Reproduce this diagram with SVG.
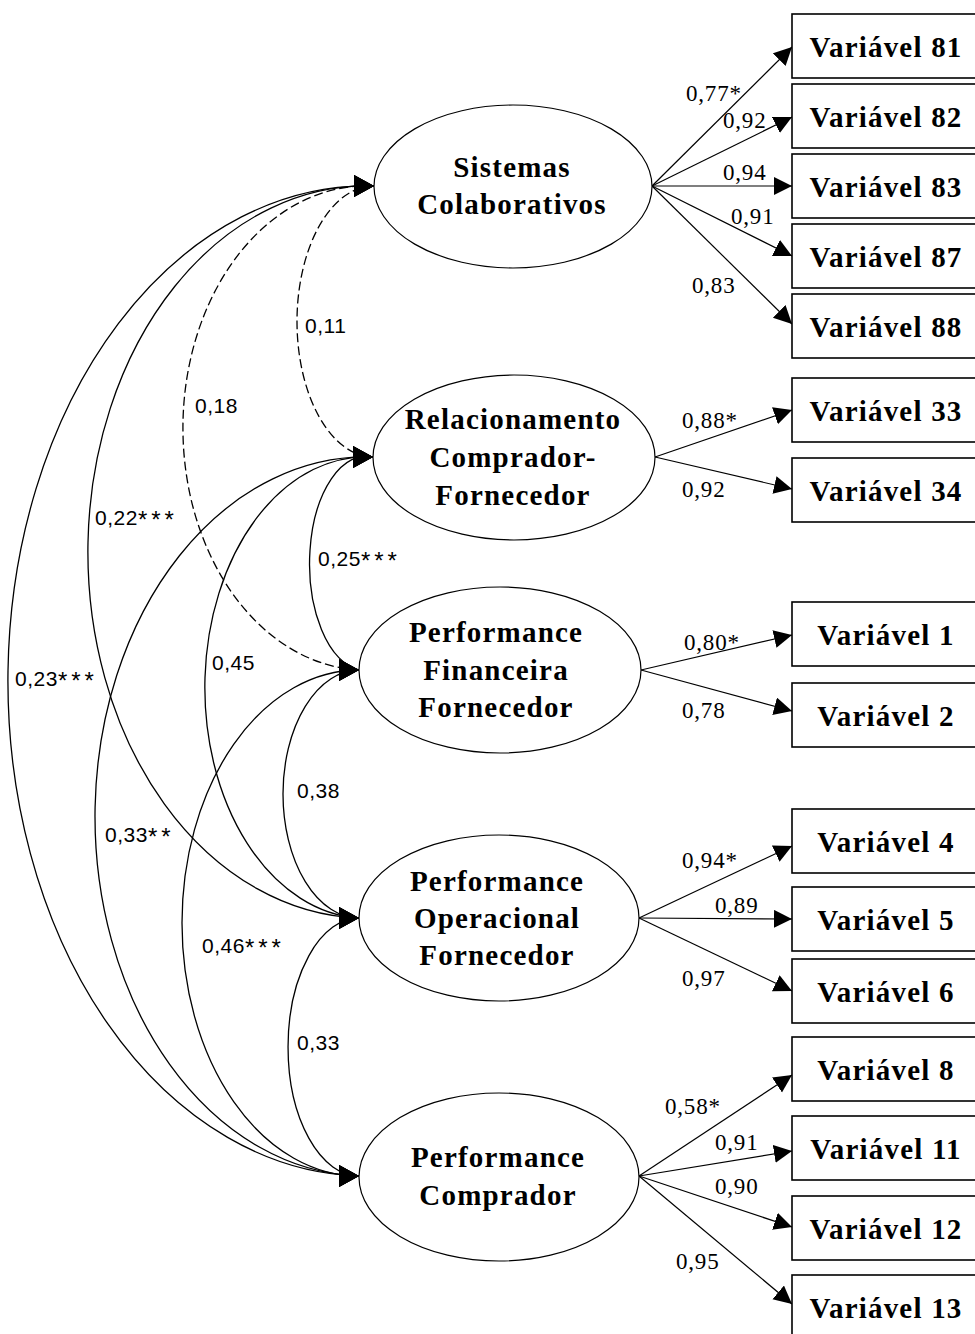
<svg xmlns="http://www.w3.org/2000/svg" width="975" height="1334" viewBox="0 0 975 1334">
<style>
.bg{fill:#fff}
.lat{fill:#fff;stroke:#000;stroke-width:1.2}
.box{fill:#fff;stroke:#000;stroke-width:1.6}
.nt{font-family:"Liberation Serif",serif;font-weight:bold;font-size:29px;letter-spacing:1.2px;text-anchor:middle;fill:#000}
.ld{stroke:#000;stroke-width:1.2;fill:none;marker-end:url(#la)}
.cv{stroke:#000;stroke-width:1.3;fill:none;marker-start:url(#ch);marker-end:url(#ch)}
.ds{stroke-dasharray:9,4}
.rl{font-family:"Liberation Serif",serif;font-size:23px;letter-spacing:0.8px;fill:#000}
.ll{font-family:"Liberation Sans",sans-serif;font-size:21px;letter-spacing:0.5px;fill:#000}
.st{font-size:24px;letter-spacing:4px}
</style>
<defs>
<marker id="la" markerUnits="userSpaceOnUse" markerWidth="20" markerHeight="20" refX="18" refY="9" orient="auto"><path d="M0,0 L18,9 L0,18 Z" fill="#000"/></marker>
<marker id="ch" markerUnits="userSpaceOnUse" markerWidth="22" markerHeight="24" refX="20" refY="11" orient="0"><path d="M0,0 L20,11 L0,22 Z" fill="#000"/></marker>
</defs>
<rect class="bg" x="0" y="0" width="975" height="1334"/>

<g id="connectors">
<!-- covariances -->
<path class="cv ds" d="M374,186 A76.5,135.5 0 0 0 373,457"/>
<path class="cv ds" d="M374,186 A183.5,242 0 0 0 359,670"/>
<path class="cv" d="M374,186 A278.5,366 0 0 0 359,918"/>
<path class="cv" d="M374,186 A358.5,495 0 0 0 359,1176"/>
<path class="cv" d="M373,457 A56,106.5 0 0 0 359,670"/>
<path class="cv" d="M373,457 A161,230.5 0 0 0 359,918"/>
<path class="cv" d="M373,457 A271,359.5 0 0 0 359,1176"/>
<path class="cv" d="M359,670 A76,124 0 0 0 359,918"/>
<path class="cv" d="M359,670 A177,253 0 0 0 359,1176"/>
<path class="cv" d="M359,918 A71,129 0 0 0 359,1176"/>
<!-- loadings -->
<line class="ld" x1="652" y1="186" x2="792" y2="47"/>
<line class="ld" x1="652" y1="186" x2="792" y2="117"/>
<line class="ld" x1="652" y1="186" x2="792" y2="186"/>
<line class="ld" x1="652" y1="186" x2="792" y2="256"/>
<line class="ld" x1="652" y1="186" x2="792" y2="324"/>
<line class="ld" x1="655" y1="457" x2="792" y2="410"/>
<line class="ld" x1="655" y1="457" x2="792" y2="489"/>
<line class="ld" x1="641" y1="670" x2="792" y2="635"/>
<line class="ld" x1="641" y1="670" x2="792" y2="711"/>
<line class="ld" x1="639" y1="918" x2="792" y2="846"/>
<line class="ld" x1="639" y1="918" x2="792" y2="919"/>
<line class="ld" x1="639" y1="918" x2="792" y2="991"/>
<line class="ld" x1="639" y1="1176" x2="792" y2="1075"/>
<line class="ld" x1="639" y1="1176" x2="792" y2="1151"/>
<line class="ld" x1="639" y1="1176" x2="792" y2="1227"/>
<line class="ld" x1="639" y1="1176" x2="792" y2="1304"/>
<!-- covariance labels -->
<text class="ll" x="305" y="333">0,11</text>
<text class="ll" x="195" y="413">0,18</text>
<text class="ll" x="95" y="525">0,22<tspan class="st" dy="3">***</tspan></text>
<text class="ll" x="318" y="566">0,25<tspan class="st" dy="3">***</tspan></text>
<text class="ll" x="15" y="686">0,23<tspan class="st" dy="3">***</tspan></text>
<text class="ll" x="212" y="670">0,45</text>
<text class="ll" x="297" y="798">0,38</text>
<text class="ll" x="105" y="842">0,33<tspan class="st" dy="3">**</tspan></text>
<text class="ll" x="202" y="953">0,46<tspan class="st" dy="3">***</tspan></text>
<text class="ll" x="297" y="1050">0,33</text>
<!-- loading labels -->
<text class="rl" x="686" y="101">0,77*</text>
<text class="rl" x="723" y="128">0,92</text>
<text class="rl" x="723" y="180">0,94</text>
<text class="rl" x="731" y="224">0,91</text>
<text class="rl" x="692" y="293">0,83</text>
<text class="rl" x="682" y="428">0,88*</text>
<text class="rl" x="682" y="497">0,92</text>
<text class="rl" x="684" y="650">0,80*</text>
<text class="rl" x="682" y="718">0,78</text>
<text class="rl" x="682" y="868">0,94*</text>
<text class="rl" x="715" y="913">0,89</text>
<text class="rl" x="682" y="986">0,97</text>
<text class="rl" x="665" y="1114">0,58*</text>
<text class="rl" x="715" y="1150">0,91</text>
<text class="rl" x="715" y="1194">0,90</text>
<text class="rl" x="676" y="1269">0,95</text>
</g>

<g id="f-sistemas">
<ellipse class="lat" cx="513" cy="186.5" rx="139" ry="81.5"/>
<text class="nt" x="512" y="177">Sistemas</text>
<text class="nt" x="512" y="214">Colaborativos</text>
</g>
<g id="f-relacionamento">
<ellipse class="lat" cx="514" cy="457.5" rx="141" ry="82.5"/>
<text class="nt" x="513" y="429">Relacionamento</text>
<text class="nt" x="513" y="467">Comprador-</text>
<text class="nt" x="513" y="505">Fornecedor</text>
</g>
<g id="f-financeira">
<ellipse class="lat" cx="500" cy="670" rx="141" ry="83"/>
<text class="nt" x="496" y="642">Performance</text>
<text class="nt" x="496" y="680">Financeira</text>
<text class="nt" x="496" y="717">Fornecedor</text>
</g>
<g id="f-operacional">
<ellipse class="lat" cx="499" cy="918" rx="140" ry="83"/>
<text class="nt" x="497" y="891">Performance</text>
<text class="nt" x="497" y="928">Operacional</text>
<text class="nt" x="497" y="965">Fornecedor</text>
</g>
<g id="f-comprador">
<ellipse class="lat" cx="499" cy="1177" rx="140" ry="84"/>
<text class="nt" x="498" y="1167">Performance</text>
<text class="nt" x="498" y="1205">Comprador</text>
</g>

<g id="v81"><rect class="box" x="792" y="14" width="200" height="64"/><text class="nt" x="886" y="57">Variável 81</text></g>
<g id="v82"><rect class="box" x="792" y="84" width="200" height="64"/><text class="nt" x="886" y="127">Variável 82</text></g>
<g id="v83"><rect class="box" x="792" y="154" width="200" height="64"/><text class="nt" x="886" y="197">Variável 83</text></g>
<g id="v87"><rect class="box" x="792" y="224" width="200" height="64"/><text class="nt" x="886" y="267">Variável 87</text></g>
<g id="v88"><rect class="box" x="792" y="294" width="200" height="64"/><text class="nt" x="886" y="337">Variável 88</text></g>
<g id="v33"><rect class="box" x="792" y="378" width="200" height="64"/><text class="nt" x="886" y="421">Variável 33</text></g>
<g id="v34"><rect class="box" x="792" y="458" width="200" height="64"/><text class="nt" x="886" y="501">Variável 34</text></g>
<g id="v1"><rect class="box" x="792" y="602" width="200" height="64"/><text class="nt" x="886" y="645">Variável 1</text></g>
<g id="v2"><rect class="box" x="792" y="683" width="200" height="64"/><text class="nt" x="886" y="726">Variável 2</text></g>
<g id="v4"><rect class="box" x="792" y="809" width="200" height="64"/><text class="nt" x="886" y="852">Variável 4</text></g>
<g id="v5"><rect class="box" x="792" y="887" width="200" height="64"/><text class="nt" x="886" y="930">Variável 5</text></g>
<g id="v6"><rect class="box" x="792" y="959" width="200" height="64"/><text class="nt" x="886" y="1002">Variável 6</text></g>
<g id="v8"><rect class="box" x="792" y="1037" width="200" height="64"/><text class="nt" x="886" y="1080">Variável 8</text></g>
<g id="v11"><rect class="box" x="792" y="1116" width="200" height="64"/><text class="nt" x="886" y="1159">Variável 11</text></g>
<g id="v12"><rect class="box" x="792" y="1196" width="200" height="64"/><text class="nt" x="886" y="1239">Variável 12</text></g>
<g id="v13"><rect class="box" x="792" y="1275" width="200" height="64"/><text class="nt" x="886" y="1318">Variável 13</text></g>
</svg>
